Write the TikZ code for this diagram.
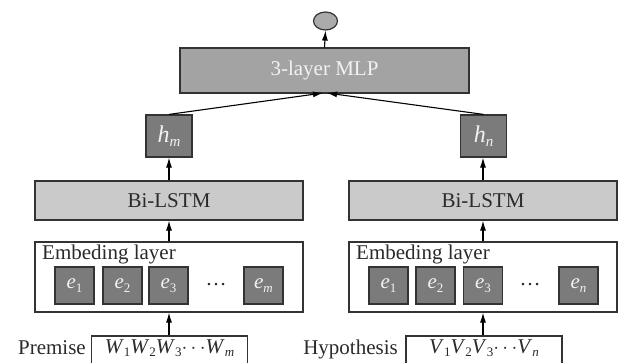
\documentclass[tikz,border=0pt]{standalone}
\usepackage{fontspec}
\setmainfont{Liberation Serif}
\usetikzlibrary{arrows.meta,shapes.geometric}
\definecolor{boxline}{HTML}{333333}
\definecolor{txt}{HTML}{2A2A2A}
\definecolor{mlpfill}{HTML}{A3A3A3}
\definecolor{lstmfill}{HTML}{CACACA}
\definecolor{darkfill}{HTML}{7B7B7B}
\definecolor{outfill}{HTML}{ABABAB}
\definecolor{lighttxt}{HTML}{F2F2F2}
\newcommand\vsub[2]{\textit{#1}\raisebox{-0.35ex}{\fontsize{13}{13}\selectfont #2}}
\newcommand\hsub[2]{{\fontsize{24}{26}\selectfont\textit{#1}\raisebox{-0.35ex}{\fontsize{15}{15}\selectfont #2}}}
\newcommand\bigfont{\fontsize{21}{24}\selectfont}
\tikzset{
  base/.style={draw=boxline, line width=1.2pt, inner sep=0pt, font=\bigfont},
  mlpbox/.style={base, rectangle, fill=mlpfill, text=lighttxt, minimum width=289pt, minimum height=45pt},
  lstmbox/.style={base, rectangle, fill=lstmfill, text=txt, minimum width=268pt, minimum height=39pt},
  hbox/.style={base, rectangle, fill=darkfill, text=lighttxt, minimum width=46pt, minimum height=42pt},
  ebox/.style={base, rectangle, fill=darkfill, text=lighttxt, minimum width=39pt, minimum height=37pt},
  embbox/.style={base, rectangle, fill=white, minimum width=268pt, minimum height=70pt},
  inbox/.style={base, rectangle, fill=white, text=txt, minimum width=156pt, minimum height=34pt},
  outnode/.style={base, ellipse, fill=outfill, minimum width=24pt, minimum height=18pt},
  lbl/.style={inner sep=0pt, text=txt, font=\bigfont},
  arr/.style={draw=black, line width=1.1pt, -{Latex[length=10pt,width=6pt]}}
}
\begin{document}
\begin{tikzpicture}[x=1pt,y=-1pt]
\useasboundingbox (0,0) rectangle (621,362);
% top
\node[outnode] (out) at (325.5,21) {};
\node[mlpbox] (mlp) at (324.5,70.5) {3-layer MLP};
\coordinate (mlpL) at (323,93);
\coordinate (mlpR) at (327,93);
\node[hbox] (hm) at (169,136) {\hsub{h}{\textit{m}}};
\node[hbox] (hn) at (483.5,136) {\hsub{h}{\textit{n}}};
% LSTM
\node[lstmbox] (l1) at (169,200.5) {Bi-LSTM};
\node[lstmbox] (l2) at (483,200.5) {Bi-LSTM};
% embedding
\node[embbox] (emb1) at (169,277) {};
\node[embbox] (emb2) at (483,277) {};
\node[lbl, anchor=base west] (embt1) at (42,259) {Embeding layer};
\node[lbl, anchor=base west] (embt2) at (356,259) {Embeding layer};
\node[ebox] (a1) at (74.5,285.5) {\vsub{e}{1}};
\node[ebox] (a2) at (122.5,285.5) {\vsub{e}{2}};
\node[ebox] (a3) at (168.5,285.5) {\vsub{e}{3}};
\node[lbl] (ad) at (216,285) {\dots};
\node[ebox] (am) at (263.5,285.5) {\vsub{e}{\textit{m}}};
\node[ebox] (b1) at (388.5,285.5) {\vsub{e}{1}};
\node[ebox] (b2) at (435.5,285.5) {\vsub{e}{2}};
\node[ebox] (b3) at (483,285.5) {\vsub{e}{3}};
\node[lbl] (bd) at (530,285) {\dots};
\node[ebox] (bn) at (578.5,285.5) {\vsub{e}{\textit{n}}};
% inputs
\node[inbox] (in1) at (169.5,353) {};
\node[inbox] (in2) at (484,353) {};
\node[lbl, anchor=base] (w) at (169.5,353) {\vsub{W}{1}\vsub{W}{2}\vsub{W}{3}$\cdots$\vsub{W}{\textit{m}}};
\node[lbl, anchor=base] (v) at (484,353) {\vsub{V}{1}\vsub{V}{2}\vsub{V}{3}$\cdots$\vsub{V}{\textit{n}}};
\node[lbl, anchor=base east] (prem) at (86,354) {Premise};
\node[lbl, anchor=base east] (hyp) at (398,354) {Hypothesis};
% arrows
\draw[arr] (mlp.north) -- (out.south);
\draw[arr] (hm.north) -- (mlpL);
\draw[arr] (hn.north) -- (mlpR);
\draw[arr] (l1.north) -- (hm.south);
\draw[arr] (l2.north) -- (hn.south -| l2.north);
\draw[arr] (emb1.north) -- (l1.south);
\draw[arr] (emb2.north) -- (l2.south);
\draw[arr] (in1.north -| emb1.south) -- (emb1.south);
\draw[arr] (in2.north -| emb2.south) -- (emb2.south);
\end{tikzpicture}
\end{document}
